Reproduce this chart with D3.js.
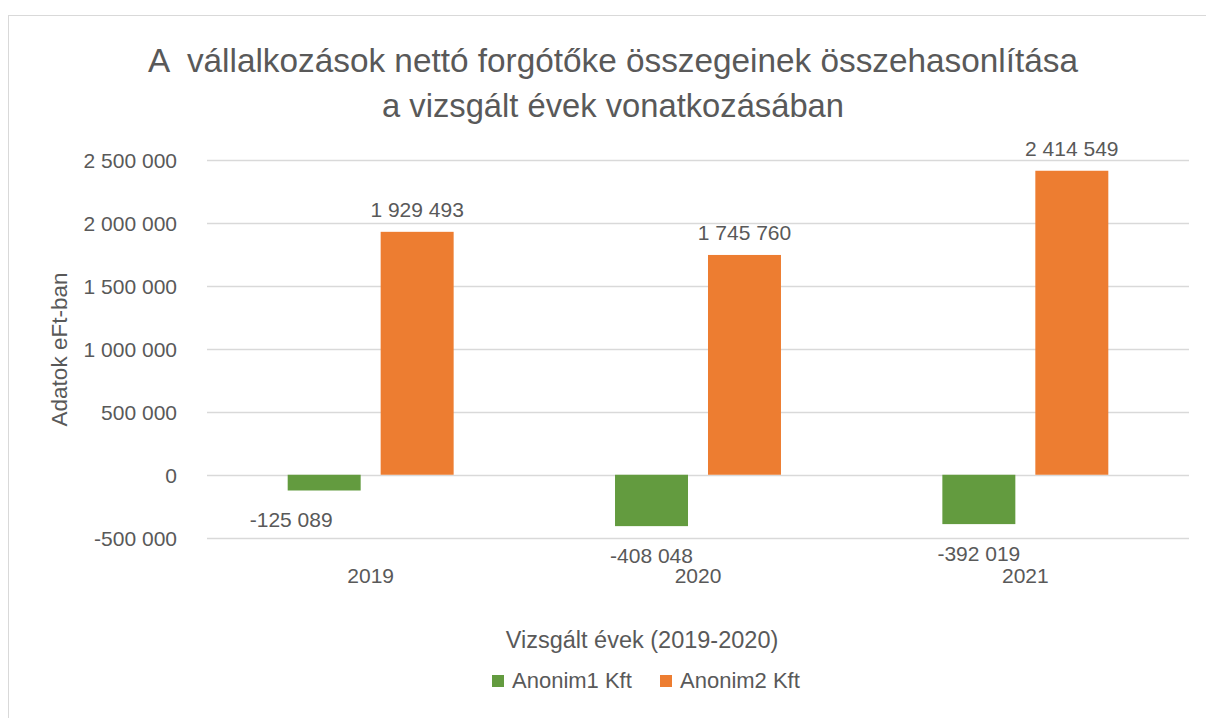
<!DOCTYPE html>
<html>
<head>
<meta charset="utf-8">
<script src="https://cdn.jsdelivr.net/npm/d3@7"></script>
<style>
  body { margin: 0; background: #fff; }
  svg { display: block; }
  text { font-family: "Liberation Sans", Arial, sans-serif; fill: #595959; }
</style>
</head>
<body>
<svg id="chart" width="1206" height="718"></svg>
<script>
let width = 1206, height = 718;

// data
let categories = ["2019", "2020", "2021"];
let seriesNames = ["Anonim1 Kft", "Anonim2 Kft"];
let anonim1 = [-125089, -408048, -392019];
let anonim2 = [1929493, 1745760, 2414549];
let yTicks = [-500000, 0, 500000, 1000000, 1500000, 2000000, 2500000];
let titleLines = ["A  vállalkozások nettó forgótőke összegeinek összehasonlítása", "a vizsgált évek vonatkozásában"];
let colors = ["#639B3F", "#ED7D31"];

let rows = categories.map((c, i) => ({ cat: c, values: [anonim1[i], anonim2[i]] }));

let svg = d3.select("#chart");
let fmt = v => d3.format(",")(v).replace(/,/g, " ").replace("\u2212", "-");

// chart border
svg.append("rect")
  .attr("x", 8.5).attr("y", 15.5)
  .attr("width", width + 10).attr("height", height + 10)
  .attr("fill", "none").attr("stroke", "#D9D9D9");

let x0 = d3.scaleBand().domain(categories).range([207, 1189]).paddingInner(0.493).paddingOuter(0.2465);
let x1 = d3.scaleBand().domain([0, 1]).range([0, x0.bandwidth()]).paddingInner(0.215);
let y = d3.scaleLinear().domain([-500000, 2500000]).range([537.7, 160]);

// gridlines
svg.append("g")
  .selectAll("line")
  .data(yTicks).join("line")
  .attr("x1", 207).attr("x2", 1189)
  .attr("y1", d => Math.round(y(d)) + 0.5).attr("y2", d => Math.round(y(d)) + 0.5)
  .attr("stroke", "#D9D9D9").attr("stroke-width", 1.5);

// y axis labels
let yAxis = svg.append("g")
  .attr("transform", "translate(177,0)")
  .call(d3.axisLeft(y).tickValues(yTicks).tickFormat(fmt).tickSize(0).tickPadding(0));
yAxis.select(".domain").remove();
yAxis.selectAll("text")
  .attr("font-size", 21).attr("font-family", null).attr("fill", "#595959").attr("dy", "0.36em");

// bars
let groups = svg.append("g")
  .selectAll("g")
  .data(rows).join("g")
  .attr("transform", d => `translate(${x0(d.cat)},0)`);

groups.selectAll("rect")
  .data(d => d.values.map((v, k) => ({ v, k })))
  .join("rect")
  .attr("x", d => x1(d.k))
  .attr("width", x1.bandwidth())
  .attr("y", d => Math.min(y(d.v), y(0)))
  .attr("height", d => Math.abs(y(d.v) - y(0)))
  .attr("fill", d => colors[d.k]);

// data labels
let firstShift = -33; // first negative label was moved left in the original
groups.selectAll("text.lbl")
  .data((d, i) => d.values.map((v, k) => ({ v, k, i })))
  .join("text")
  .attr("class", "lbl")
  .attr("text-anchor", "middle")
  .attr("font-size", 21)
  .attr("x", d => x1(d.k) + x1.bandwidth() / 2 + (d.k === 0 && d.i === 0 ? firstShift : 0))
  .attr("y", d => d.v >= 0 ? y(d.v) - 15 : y(d.v) + 37)
  .text(d => fmt(d.v));

// category labels
svg.append("g")
  .selectAll("text")
  .data(categories).join("text")
  .attr("x", d => x0(d) + x0.bandwidth() / 2)
  .attr("y", 583)
  .attr("text-anchor", "middle")
  .attr("font-size", 21)
  .text(d => d);

// title
svg.append("g")
  .selectAll("text")
  .data(titleLines).join("text")
  .attr("x", 613)
  .attr("y", (d, i) => 72 + i * 45)
  .attr("text-anchor", "middle")
  .attr("font-size", 34)
  .attr("textLength", (d, i) => [930, 462][i])
  .attr("lengthAdjust", "spacingAndGlyphs")
  .style("white-space", "pre")
  .text(d => d);

// axis titles
svg.append("text")
  .attr("transform", "translate(67,349.5) rotate(-90)")
  .attr("text-anchor", "middle")
  .attr("font-size", 22.5)
  .text("Adatok eFt-ban");

svg.append("text")
  .attr("x", 642).attr("y", 648)
  .attr("text-anchor", "middle")
  .attr("font-size", 23.5)
  .text("Vizsgált évek (2019-2020)");

// legend
let legend = svg.append("g")
  .selectAll("g")
  .data(seriesNames).join("g")
  .attr("transform", (d, i) => `translate(${[492, 660][i]},0)`);
legend.append("rect")
  .attr("x", 0).attr("y", 675)
  .attr("width", 12).attr("height", 12)
  .attr("fill", (d, i) => colors[i]);
legend.append("text")
  .attr("x", 20).attr("y", 688)
  .attr("font-size", 22)
  .text(d => d);
</script>
</body>
</html>
